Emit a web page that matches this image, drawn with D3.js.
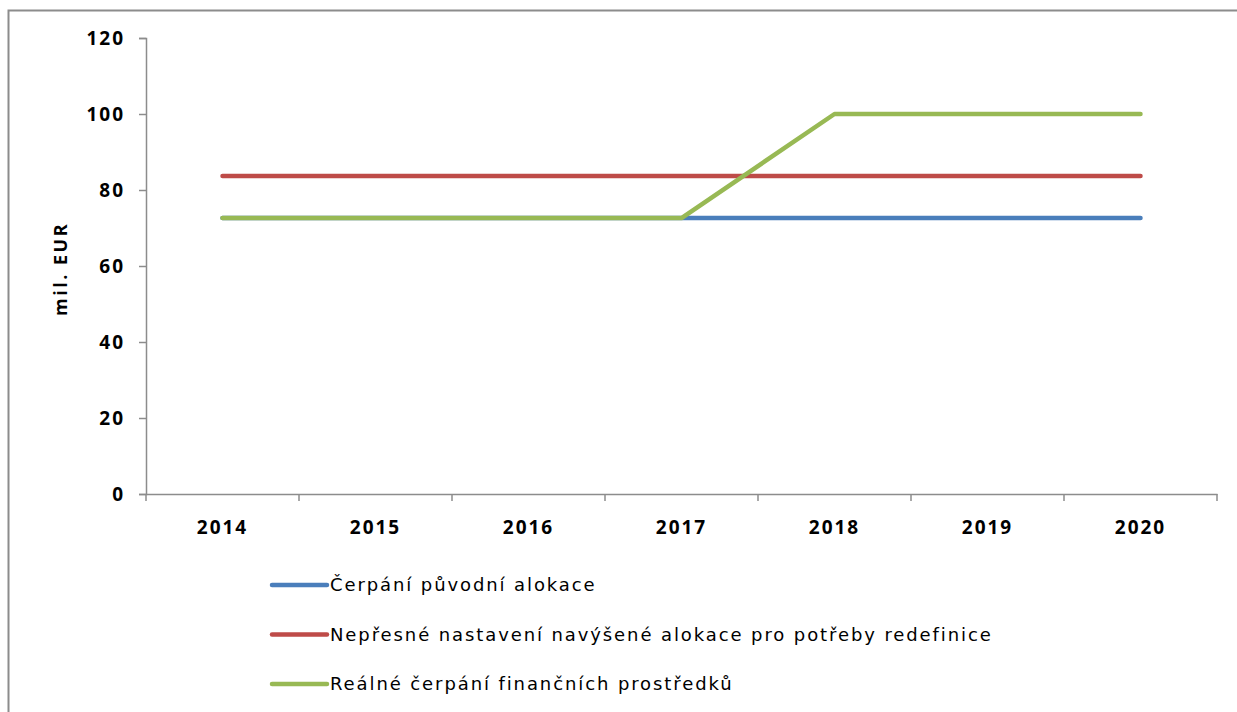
<!DOCTYPE html>
<html>
<head>
<meta charset="utf-8">
<script src="https://cdn.jsdelivr.net/npm/d3@7"></script>
<style>
  body { margin: 0; background: #fff; }
  svg { display: block; }
</style>
</head>
<body>
<div id="chart"></div>
<script>
var years = ["2014", "2015", "2016", "2017", "2018", "2019", "2020"];
var puvodni = [72.6, 72.6, 72.6, 72.6, 72.6, 72.6, 72.6];
var nepresne = [83.7, 83.7, 83.7, 83.7, 83.7, 83.7, 83.7];
var realne = [72.6, 72.6, 72.6, 72.6, 100, 100, 100];
var yTicks = [0, 20, 40, 60, 80, 100, 120];
var seriesNames = [
  "Čerpání původní alokace",
  "Nepřesné nastavení navýšené alokace pro potřeby redefinice",
  "Reálné čerpání finančních prostředků"
];

var series = [
  { name: seriesNames[0], values: puvodni, color: "#4a7ebb" },
  { name: seriesNames[1], values: nepresne, color: "#be4b48" },
  { name: seriesNames[2], values: realne, color: "#98b954" }
];

var W = 1237, H = 712;
var margin = { top: 38, left: 146 };
var plotW = 1217 - margin.left;
var plotH = 494 - margin.top;

var svg = d3.select("#chart").append("svg")
  .attr("width", W)
  .attr("height", H);

// outer frame
svg.append("rect")
  .attr("x", 8.5).attr("y", 10.5)
  .attr("width", W).attr("height", H)
  .attr("fill", "none")
  .attr("stroke", "#8c8c8c")
  .attr("stroke-width", 2);

var g = svg.append("g")
  .attr("transform", "translate(" + margin.left + "," + margin.top + ")");

var x = d3.scaleBand().domain(years).range([0, plotW]);
var y = d3.scaleLinear().domain([0, 120]).range([plotH, 0]);

// y axis
var yAxis = d3.axisLeft(y).tickValues(yTicks).tickSize(7).tickPadding(14);
g.append("g").attr("class", "axis").call(yAxis);

// x axis: ticks at band boundaries
var xAxis = d3.axisBottom(x).tickSize(0).tickPadding(27);
var xg = g.append("g").attr("class", "axis")
  .attr("transform", "translate(0," + plotH + ")")
  .call(xAxis);
xg.selectAll(".boundary")
  .data(years.concat(["end"]))
  .enter().append("line")
  .attr("x1", function (d, i) { return i * x.bandwidth(); })
  .attr("x2", function (d, i) { return i * x.bandwidth(); })
  .attr("y1", 0).attr("y2", 7);

g.selectAll(".axis path, .axis line")
  .attr("stroke", "#8c8c8c")
  .attr("stroke-width", 1.5);
g.selectAll(".axis text")
  .attr("font-family", "'Open Sans', sans-serif")
  .attr("font-weight", "bold")
  .attr("font-size", 19)
  .attr("letter-spacing", 2)
  .attr("fill", "#000");

// y label
svg.append("text")
  .attr("transform", "translate(67,269) rotate(-90)")
  .attr("text-anchor", "middle")
  .attr("font-family", "'Open Sans', sans-serif")
  .attr("font-weight", "bold")
  .attr("font-size", 18)
  .attr("letter-spacing", 2.5)
  .text("mil. EUR");

var line = d3.line()
  .x(function (d, i) { return x(years[i]) + x.bandwidth() / 2; })
  .y(function (d) { return y(d); });

g.selectAll(".series")
  .data(series)
  .enter().append("path")
  .attr("class", "series")
  .attr("d", function (d) { return line(d.values); })
  .attr("fill", "none")
  .attr("stroke", function (d) { return d.color; })
  .attr("stroke-width", 4.5)
  .attr("stroke-linecap", "round")
  .attr("stroke-linejoin", "round");

// legend
var legend = svg.append("g").attr("transform", "translate(272,585)");
var item = legend.selectAll(".item")
  .data(series)
  .enter().append("g")
  .attr("transform", function (d, i) { return "translate(0," + i * 49.5 + ")"; });
item.append("line")
  .attr("x1", 0).attr("x2", 55)
  .attr("stroke", function (d) { return d.color; })
  .attr("stroke-width", 4.5)
  .attr("stroke-linecap", "round");
item.append("text")
  .attr("x", 58)
  .attr("dy", "0.35em")
  .attr("font-family", "'DejaVu Sans', sans-serif")
  .attr("font-size", 18)
  .attr("letter-spacing", 1.9)
  .attr("fill", "#000")
  .text(function (d) { return d.name; });
</script>
</body>
</html>
